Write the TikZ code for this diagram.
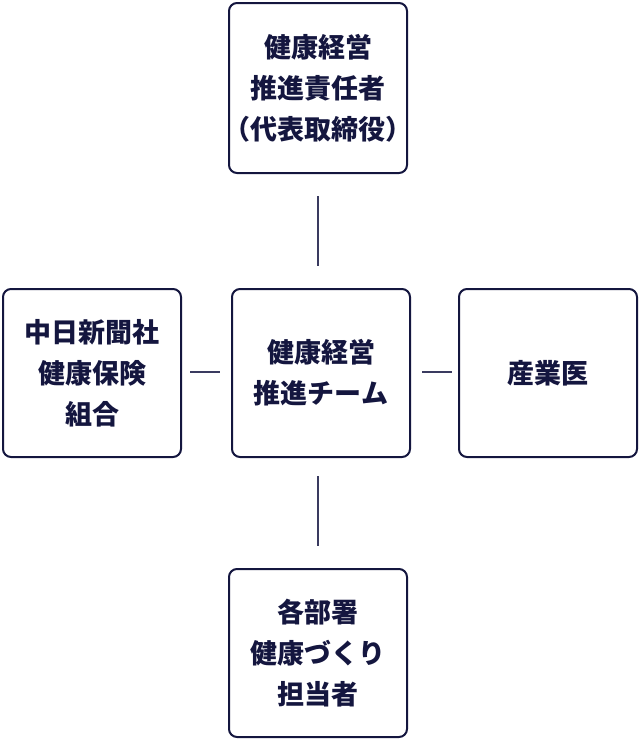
\documentclass[tikz,border=0pt]{standalone}
\usepackage{fontspec}
\newfontfamily\jp{Noto Sans CJK JP Black}
\definecolor{navy}{HTML}{14163F}
\definecolor{linec}{HTML}{3A3B60}
\begin{document}
\begin{tikzpicture}[x=1pt,y=-1pt,
  box/.style={draw=navy,line width=2pt,rounded corners=8pt,minimum width=178pt,align=center,
    text=navy,font=\jp\fontsize{27}{41}\selectfont,inner sep=0pt},
  conn/.style={draw=linec,line width=1.6pt}]
\useasboundingbox (0,0) rectangle (640,744);
\node[box,minimum height=170pt] (top) at (318,88) {健康経営\\推進責任者\\\makebox[160pt]{（代表取締役）}};
\node[box,minimum height=168pt] (left) at (92,373) {中日新聞社\\健康保険\\組合};
\node[box,minimum height=168pt] (center) at (321,373) {健康経営\\推進チーム};
\node[box,minimum height=168pt] (right) at (548,373) {産業医};
\node[box,minimum height=168pt] (bottom) at (318,653) {各部署\\健康づくり\\担当者};
\coordinate (t1) at (318,196); \coordinate (t2) at (318,266);
\coordinate (b1) at (318,476); \coordinate (b2) at (318,546);
\coordinate (l1) at (190,372); \coordinate (l2) at (220,372);
\coordinate (r1) at (422,372); \coordinate (r2) at (452,372);
\draw[conn] (t1) -- (t2);
\draw[conn] (b1) -- (b2);
\draw[conn] (l1) -- (l2);
\draw[conn] (r1) -- (r2);
\end{tikzpicture}
\end{document}
